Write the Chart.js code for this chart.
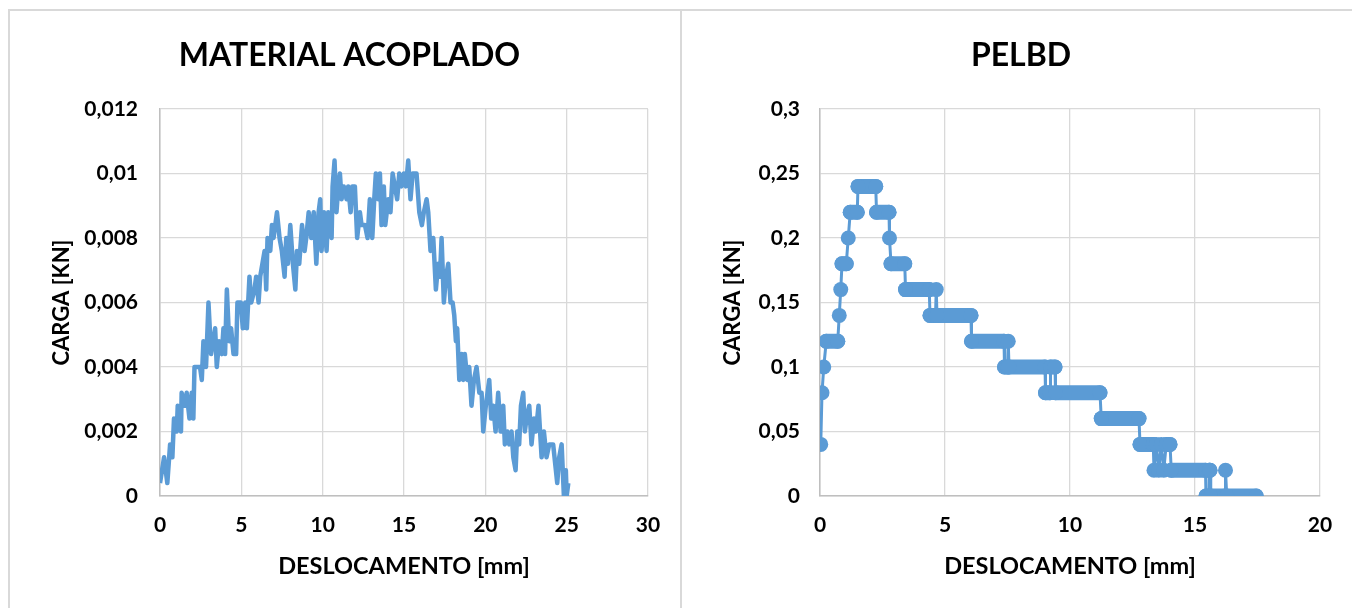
<!DOCTYPE html>
<html>
<head>
<meta charset="utf-8">
<script src="https://cdn.jsdelivr.net/npm/chart.js@4.4.1/dist/chart.umd.min.js"></script>
<style>
    body { margin: 0; background: #fff; width: 1352px; height: 608px; overflow: hidden; position: relative; }
    .frame-top { position: absolute; left: 8px; top: 9px; width: 1344px; height: 2px; background: #d9d9d9; }
    .frame-left { position: absolute; left: 8px; top: 9px; width: 2px; height: 599px; background: #d9d9d9; }
    .frame-mid { position: absolute; left: 680px; top: 9px; width: 2px; height: 599px; background: #d9d9d9; }
    canvas { position: absolute; top: 0; }
</style>
</head>
<body>
<div class="frame-top"></div>
<div class="frame-left"></div>
<div class="frame-mid"></div>
<canvas id="chartAcoplado" width="680" height="608" style="left:0px"></canvas>
<canvas id="chartPelbd" width="670" height="608" style="left:682px"></canvas>
<script>
// MATERIAL ACOPLADO - deslocamento [mm] / carga [kN]
var acopX = [0, 0.25, 0.45, 0.62, 0.76, 0.86, 1.03, 1.09, 1.29, 1.33, 1.54, 1.64, 1.81, 1.95, 2.05, 2.12, 2.46, 2.57, 2.67, 2.83,
    2.98, 3.14, 3.39, 3.49, 3.63, 3.8, 3.9, 4.0, 4.11, 4.25, 4.37, 4.52, 4.68, 4.76, 4.97, 5.09, 5.24, 5.34, 5.5, 5.61,
    5.81, 5.91, 6.06, 6.16, 6.43, 6.53, 6.61, 6.78, 6.88, 6.98, 7.19, 7.35, 7.49, 7.66, 7.76, 7.86, 8.01, 8.17, 8.32, 8.42,
    8.56, 8.73, 8.89, 8.99, 9.14, 9.3, 9.45, 9.61, 9.75, 9.85, 9.93, 10.08, 10.24, 10.34, 10.55, 10.61, 10.73, 10.85, 10.96, 11.06,
    11.16, 11.3, 11.47, 11.57, 11.72, 11.82, 11.98, 12.12, 12.29, 12.39, 12.6, 12.76, 12.9, 13.05, 13.17, 13.27, 13.42, 13.52, 13.62, 13.76,
    13.85, 14.03, 14.17, 14.3, 14.44, 14.58, 14.71, 14.85, 14.99, 15.12, 15.26, 15.4, 15.53, 15.77, 15.94, 16.1, 16.22, 16.39, 16.49, 16.63,
    16.8, 16.96, 17.1, 17.21, 17.31, 17.45, 17.58, 17.72, 17.86, 17.99, 18.09, 18.19, 18.27, 18.4, 18.54, 18.64, 18.74, 18.89, 19.01, 19.15,
    19.3, 19.46, 19.63, 19.77, 19.87, 20.03, 20.24, 20.36, 20.49, 20.63, 20.79, 20.94, 21.1, 21.2, 21.35, 21.47, 21.61, 21.72, 21.86, 21.96,
    22.08, 22.19, 22.33, 22.43, 22.53, 22.7, 22.84, 22.99, 23.11, 23.27, 23.46, 23.6, 23.76, 23.93, 24.17, 24.42, 24.54, 24.69, 24.83, 24.95,
    25.0, 25.1];
var acopY = [0.0004, 0.0012, 0.0004, 0.0016, 0.0012, 0.0024, 0.002, 0.0028, 0.002, 0.0032, 0.0028, 0.0032, 0.0024, 0.0032, 0.0024, 0.004, 0.004, 0.0036, 0.0048, 0.004,
    0.006, 0.0044, 0.0052, 0.004, 0.0048, 0.0044, 0.0052, 0.0044, 0.0064, 0.0048, 0.0052, 0.0044, 0.0044, 0.006, 0.006, 0.0052, 0.006, 0.0052, 0.0068, 0.006,
    0.0064, 0.0068, 0.006, 0.0068, 0.0076, 0.0064, 0.008, 0.0076, 0.0084, 0.008, 0.0088, 0.008, 0.0076, 0.0068, 0.008, 0.0072, 0.0084, 0.0072, 0.0064, 0.0076,
    0.0072, 0.0084, 0.0076, 0.008, 0.0088, 0.008, 0.0088, 0.0072, 0.0088, 0.0092, 0.0076, 0.0088, 0.0076, 0.0088, 0.008, 0.0096, 0.0104, 0.0088, 0.0096, 0.01,
    0.0092, 0.0096, 0.0092, 0.0096, 0.0088, 0.0096, 0.0096, 0.008, 0.0088, 0.0084, 0.0084, 0.008, 0.0092, 0.008, 0.0092, 0.01, 0.0092, 0.01, 0.0084, 0.0096,
    0.0084, 0.0092, 0.0088, 0.01, 0.0096, 0.0092, 0.01, 0.0096, 0.01, 0.0096, 0.0104, 0.0092, 0.01, 0.01, 0.0088, 0.0084, 0.0088, 0.0092, 0.0088, 0.0076,
    0.008, 0.0064, 0.0072, 0.0068, 0.008, 0.006, 0.0068, 0.0072, 0.006, 0.006, 0.0056, 0.0048, 0.0052, 0.0036, 0.0044, 0.0036, 0.0044, 0.0036, 0.004, 0.0028,
    0.0036, 0.004, 0.0032, 0.0032, 0.002, 0.0028, 0.0036, 0.0024, 0.0028, 0.002, 0.0032, 0.002, 0.0028, 0.0016, 0.002, 0.0016, 0.002, 0.0012, 0.0008, 0.002,
    0.0016, 0.0028, 0.0032, 0.002, 0.0024, 0.0028, 0.0016, 0.0024, 0.002, 0.0028, 0.0012, 0.002, 0.0012, 0.0016, 0.0016, 0.0004, 0.0012, 0.0016, 0, 0.0008,
    0, 0.0004];

// PELBD
var pelbdX = [0.03, 0.08, 0.15, 0.25, 0.71, 0.77, 0.83, 0.88, 1.05, 1.13, 1.21, 1.49, 1.52, 2.23, 2.26, 2.76, 2.78, 2.84, 3.39, 3.42,
    4.37, 4.40, 4.62, 4.65, 4.68, 6.04, 6.06, 7.36, 7.38, 7.50, 7.53, 7.56, 9.0, 9.02, 9.2, 9.22, 9.4, 9.42, 11.2, 11.25,
    12.76, 12.8, 13.33, 13.36, 13.45, 13.55, 13.65, 13.75, 13.85, 14.0, 14.05, 15.42, 15.44, 15.55, 15.57, 15.6, 15.63, 16.2, 16.22, 16.27,
    17.45];
var pelbdY = [0.04, 0.08, 0.10, 0.12, 0.12, 0.14, 0.16, 0.18, 0.18, 0.20, 0.22, 0.22, 0.24, 0.24, 0.22, 0.22, 0.20, 0.18, 0.18, 0.16,
    0.16, 0.14, 0.14, 0.16, 0.14, 0.14, 0.12, 0.12, 0.10, 0.10, 0.12, 0.10, 0.10, 0.08, 0.08, 0.10, 0.10, 0.08, 0.08, 0.06,
    0.06, 0.04, 0.04, 0.02, 0.04, 0.02, 0.04, 0.02, 0.04, 0.04, 0.02, 0.02, 0, 0, 0.02, 0.02, 0, 0, 0.02, 0,
    0];

// rotulos dos eixos (virgula decimal)
var acopYTicks = ['0', '0,002', '0,004', '0,006', '0,008', '0,01', '0,012'];
var pelbdYTicks = ['0', '0,05', '0,1', '0,15', '0,2', '0,25', '0,3'];

var lineColor = '#5b9bd5';
var fontName = 'Lato';

function toPoints(xs, ys) {
    var pts = [];
    for (var i = 0; i < xs.length; i++) {
        pts.push({ x: xs[i], y: ys[i] });
    }
    return pts;
}

function buildChart(id, title, points, xMax, yMax, yStep, yTicks, box, lineOpts) {
    var ctx = document.getElementById(id).getContext('2d');
    var ds = Object.assign({
        data: points,
        borderColor: lineColor,
        backgroundColor: lineColor,
        tension: 0,
        fill: false
    }, lineOpts);

    return new Chart(ctx, {
        type: 'line',
        data: { datasets: [ds] },
        options: {
            responsive: false,
            animation: false,
            // padding esquerda maior para centrar o titulo como no original
            layout: { padding: { left: box.left, right: box.right, top: 0, bottom: 0 } },
            plugins: {
                legend: { display: false },
                tooltip: { enabled: false },
                title: {
                    display: true,
                    text: title,
                    color: '#000',
                    font: { family: fontName, size: 32, weight: 'bold', lineHeight: 1.2 },
                    padding: { top: 36, bottom: 34.6 }
                }
            },
            scales: {
                x: {
                    type: 'linear',
                    min: 0,
                    max: xMax,
                    afterFit: function(scale) { scale.height = 112; },
                    ticks: {
                        stepSize: 5,
                        color: '#000',
                        padding: 17,
                        font: { family: fontName, size: 21, weight: 'bold' }
                    },
                    grid: { color: '#d9d9d9', lineWidth: 1.3, drawTicks: false },
                    border: { color: '#bfbfbf', width: 1.5 },
                    title: {
                        display: true,
                        text: 'DESLOCAMENTO [mm]',
                        color: '#000',
                        font: { family: fontName, size: 23.5, weight: 'bold', lineHeight: 1.2 },
                        padding: { top: 0, bottom: 27 }
                    }
                },
                y: {
                    min: 0,
                    max: yMax,
                    afterFit: function(scale) { scale.width = box.yWidth; },
                    ticks: {
                        stepSize: yStep,
                        color: '#000',
                        padding: box.tickPad,
                        font: { family: fontName, size: 21, weight: 'bold' },
                        callback: function(value, index) { return yTicks[index]; }
                    },
                    grid: { color: '#d9d9d9', lineWidth: 1.3, drawTicks: false },
                    border: { color: '#bfbfbf', width: 1.5 },
                    title: {
                        display: true,
                        text: 'CARGA [KN]',
                        color: '#000',
                        font: { family: fontName, size: 22, weight: 'bold', lineHeight: 1.2 },
                        padding: { top: box.titlePad, bottom: 0 }
                    }
                }
            }
        }
    });
}

// grafico da esquerda - linha sem marcadores
buildChart('chartAcoplado', 'MATERIAL ACOPLADO', toPoints(acopX, acopY), 30, 0.012, 0.002, acopYTicks,
    { left: 51, right: 32, yWidth: 109, tickPad: 22, titlePad: -2 },
    { borderWidth: 4.5, pointRadius: 0, borderJoinStyle: 'round' });

// grafico da direita - marcadores grossos, patamares horizontais
buildChart('chartPelbd', 'PELBD', toPoints(pelbdX, pelbdY), 20, 0.3, 0.05, pelbdYTicks,
    { left: 40, right: 32, yWidth: 98, tickPad: 20, titlePad: -2 },
    {
        borderWidth: 3,
        pointRadius: 7.5,
        pointBorderWidth: 0,
        borderCapStyle: 'round',
        borderJoinStyle: 'round',
        segment: {
            borderWidth: function(c) { return c.p0.parsed.y === c.p1.parsed.y ? 15 : 3; }
        }
    });
</script>
</body>
</html>
